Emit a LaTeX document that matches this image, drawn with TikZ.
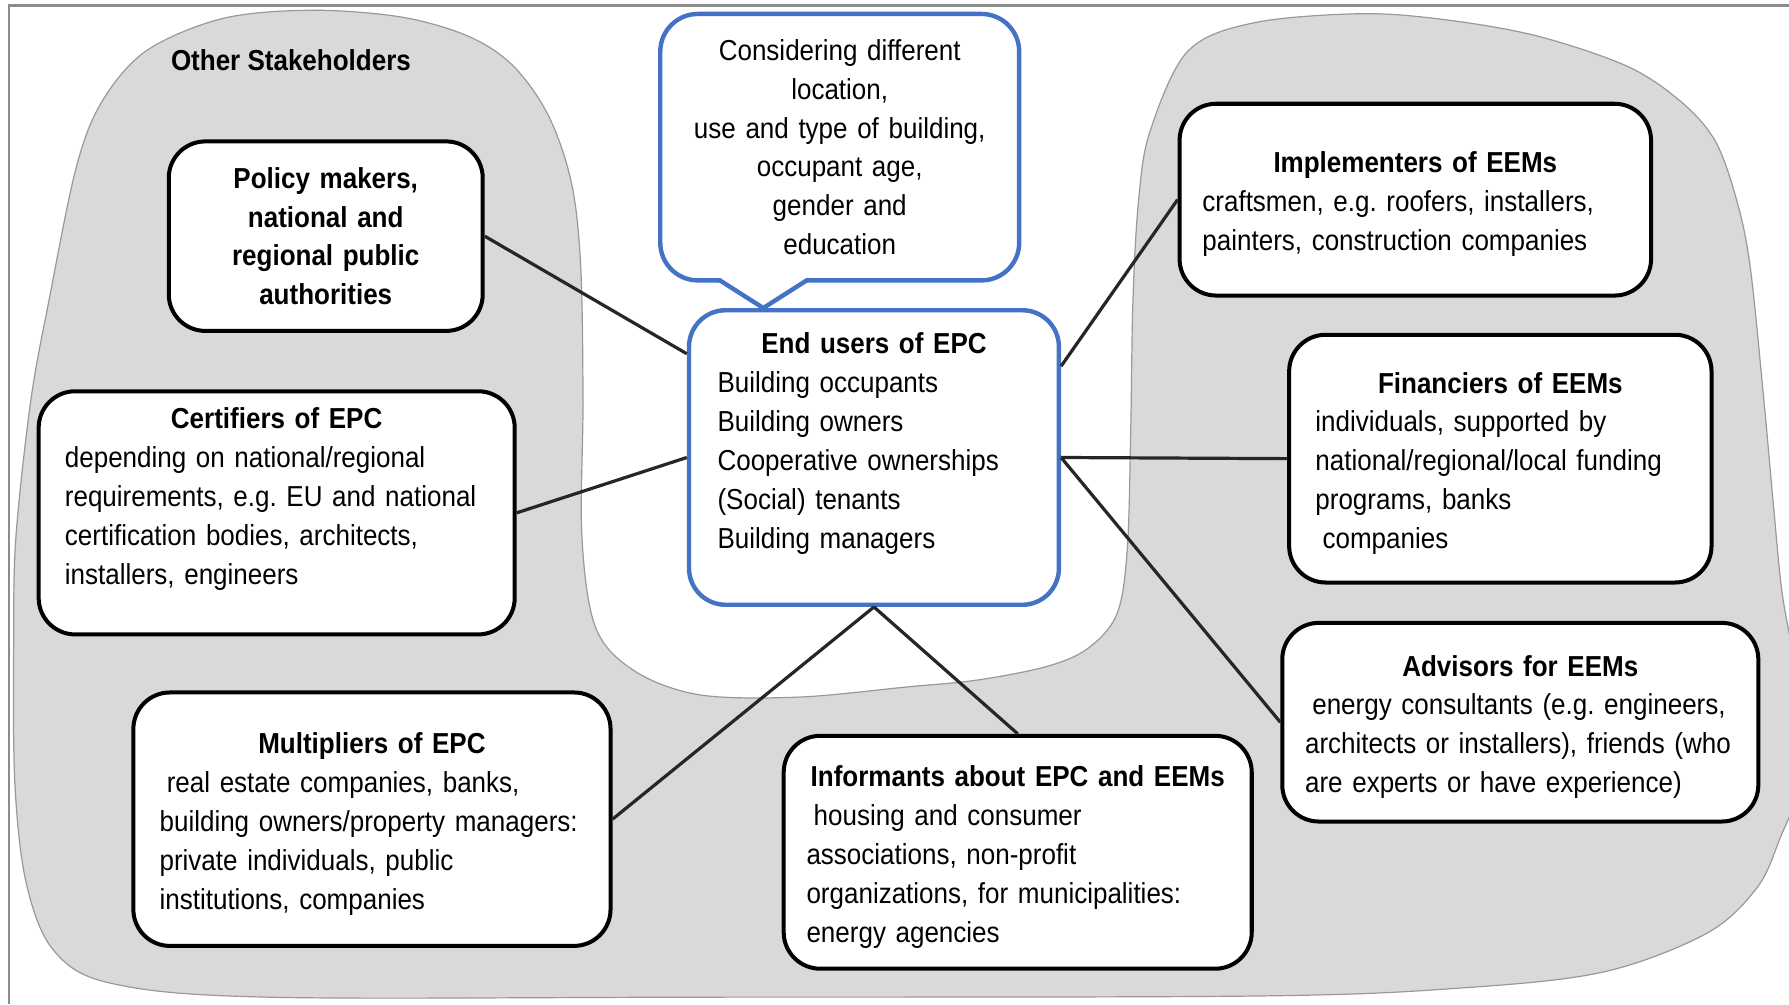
\documentclass[tikz,border=0pt]{standalone}
\usepackage{fontspec}
\setmainfont{Liberation Sans}[FakeStretch=0.90]
\definecolor{epcblue}{HTML}{4472C4}
\newcommand{\rolename}[1]{{\centering\bfseries\rule{0pt}{7.6pt}#1\par}}

\begin{document}
\begin{tikzpicture}[
    x=0.01cm, y=-0.01cm,
    every node/.style={font=\fontsize{7.2}{9.7}\selectfont\frenchspacing, inner xsep=0.2cm, inner ysep=0pt},
    head/.style={font=\fontsize{7.2}{9.7}\selectfont\bfseries},
    role/.style={rectangle, draw=black, line width=1pt, rounded corners=0.32cm, fill=white, align=left},
    enduser/.style={role, draw=epcblue, line width=1.1pt, inner xsep=0.25cm},
    note/.style={rectangle, align=center},
    noteline/.style={draw=epcblue, line width=1.1pt, line cap=round},
    link/.style={line width=0.8pt, draw=black!85},
    blob/.style={fill=black!15, draw=black!40, line width=0.3pt},
    frame/.style={draw=black!45, line width=0.6pt}
]
\useasboundingbox (0,0) rectangle (1568,880);

\draw[frame] (1568,5) -- (8,5) -- (8,880);

\filldraw[blob] plot[smooth cycle, tension=0.55] coordinates {
    (23,774) (13,686) (12,560) (14,470) (27,351) (43,263) (67,146) (90,88)
    (129,44) (196,16) (274,9) (352,15) (411,32) (450,58) (481,102) (501,161)
    (509,234) (511,351) (510,470) (522,550) (556,588) (613,609) (700,611)
    (796,602) (857,596) (918,584) (954,568) (979,538) (988,482) (991,380)
    (993,263) (998,175) (1008,115) (1041,45) (1099,20) (1195,12) (1272,18)
    (1349,32) (1426,58) (1472,88) (1503,123) (1522,175) (1534,234) (1546,351)
    (1555,450) (1562,520) (1575,600) (1575,690) (1560,735) (1540,778)
    (1496,818) (1405,852) (1280,866) (1100,873) (613,874) (235,874) (98,862)
    (47,833)};

\node[head] (others) at (255,53) {Other Stakeholders};

\node[note, text width=2.73cm, minimum height=2.32cm] (callout) at (736,129)
    {Considering different\\location,\\use and type of building,\\occupant age,\\gender and\\education};

\node[enduser, text width=2.74cm, minimum height=2.58cm] (enduser) at (766,401)
    {\rolename{End users of EPC}
     Building occupants\\Building owners\\Cooperative ownerships\\(Social) tenants\\Building managers\\[-1.7pt]\strut};

\node[role, head, align=center, text width=2.35cm, minimum height=1.66cm] (policy) at (285.5,207)
    {Policy makers,\\national and\\regional public\\authorities};

\node[role, inner xsep=0.23cm, text width=3.71cm, minimum height=2.13cm] (certifiers) at (242.5,449.5)
    {\rolename{Certifiers of EPC}
     depending on national/regional\\requirements, e.g. EU and national\\certification bodies, architects,\\installers, engineers\\[-1.7pt]\strut};

\node[role, inner xsep=0.23cm, text width=3.72cm, minimum height=2.22cm] (multipliers) at (326,718)
    {\rolename{Multipliers of EPC}
     \hspace*{1.8pt}real estate companies, banks,\\building owners/property managers:\\private individuals, public\\institutions, companies};

\node[role, text width=3.70cm, minimum height=2.04cm] (informants) at (892,747)
    {\rolename{Informants about EPC and EEMs}
     \hspace*{1.8pt}housing and consumer\\associations, non-profit\\organizations, for municipalities:\\energy agencies};

\node[role, text width=3.73cm, minimum height=1.68cm] (implementers) at (1240.5,175)
    {\rolename{Implementers of EEMs}
     craftsmen, e.g. roofers, installers,\\painters, construction companies};

\node[role, inner xsep=0.23cm, text width=3.24cm, minimum height=2.17cm] (financiers) at (1315,402)
    {\rolename{Financiers of EEMs}
     individuals, supported by\\national/regional/local funding\\programs, banks\\\hspace*{1.8pt}companies};

\node[role, text width=3.77cm, minimum height=1.74cm] (advisors) at (1332.5,633)
    {\rolename{Advisors for EEMs}
     \hspace*{1.8pt}energy consultants (e.g. engineers,\\architects or installers), friends (who\\are experts or have experience)};

\path (enduser.north) ++(-97,0) coordinate (tip);
\path (callout.south) ++(-105,0) coordinate (tipL);
\path (callout.south) ++(-29,0) coordinate (tipR);
\draw[noteline, rounded corners=0.33cm] (tipR) -- (callout.south east) -- (callout.north east)
    -- (callout.north west) -- (callout.south west) -- (tipL);
\draw[noteline, line join=round] (tipL) -- (tip) -- (tipR);

\draw[link] (policy.east) -- (enduser.151);
\draw[link] (certifiers.east) -- (enduser.west);
\draw[link] (multipliers.east) -- (enduser.south);
\draw[link] (informants.north) -- (enduser.south);
\draw[link] (implementers.west) -- (enduser.26);
\draw[link] (financiers.west) -- (enduser.east);
\draw[link] (advisors.west) -- (enduser.east);

\end{tikzpicture}
\end{document}
